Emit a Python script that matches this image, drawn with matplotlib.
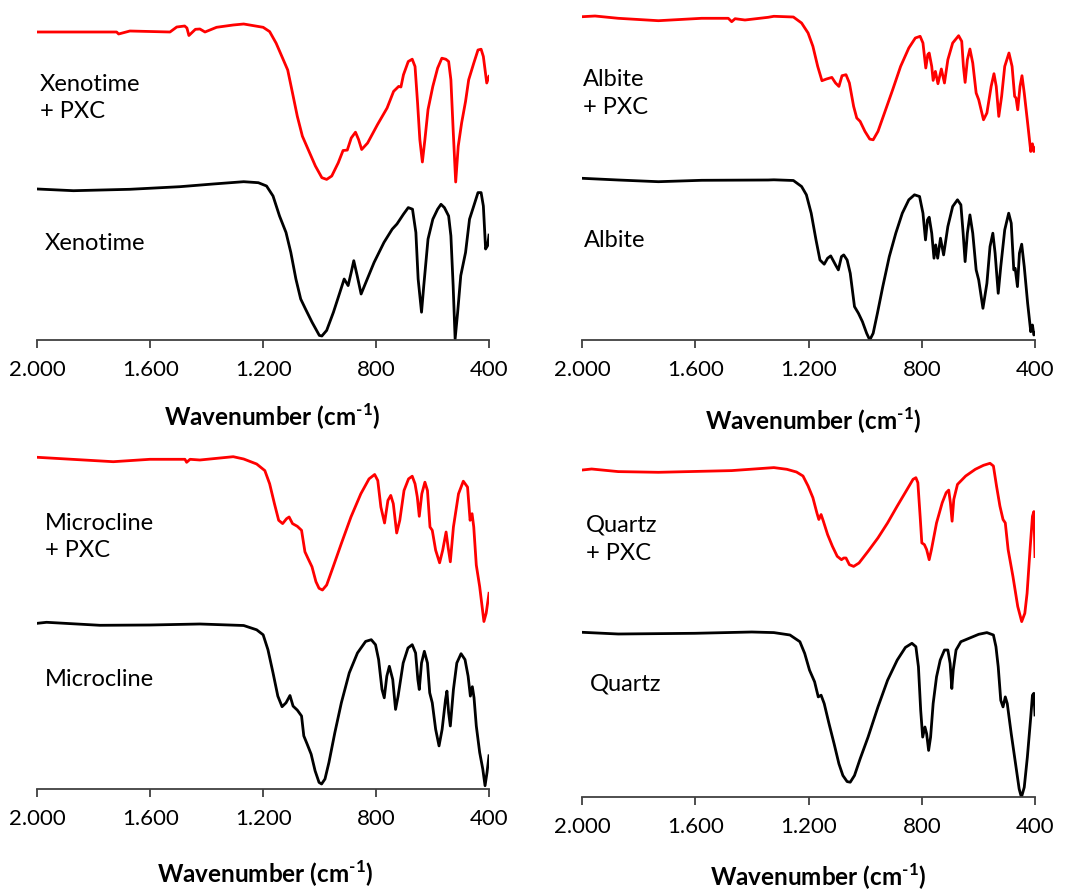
import matplotlib
matplotlib.use("Agg")
import matplotlib.pyplot as plt

plt.rcParams['font.family'] = ['Lato', 'DejaVu Sans']
plt.rcParams['mathtext.fontset'] = 'custom'
plt.rcParams['mathtext.rm'] = 'Lato'
plt.rcParams['mathtext.bf'] = 'Lato:bold'
plt.rcParams['mathtext.fallback'] = 'stixsans'

# ---------------- data (wavenumber cm-1, transmittance a.u., offset traces) ----------------
xen_pxc_w = [2000, 1719, 1712, 1672, 1530, 1506, 1478, 1470, 1463, 1440, 1424, 1406, 1365, 1306, 1269,
             1200, 1177, 1154, 1131, 1113, 1096, 1079, 1061, 1038, 1015, 992, 975, 957, 934, 917, 902,
             888, 873, 862, 851, 830, 795, 761, 738, 720, 712, 703, 686, 672, 662, 653, 645, 636, 627,
             616, 599, 582, 567, 553, 543, 535, 527, 518, 509, 497, 483, 472, 454, 439, 428, 420, 408, 400]
xen_pxc_t = [308, 308, 306, 309, 308, 313, 314, 312, 304.5, 310.7, 311, 308, 312.7, 315, 316,
             312.7, 308.4, 296.8, 281.8, 270, 247, 223.7, 203.8, 188.9, 174, 162.3, 160.6, 164, 177.2, 189.5, 189.9,
             202, 207.8, 200.5, 190.5, 197, 215.4, 232, 248.6, 253.6, 253, 265.2, 278.5, 280.8, 273.5, 237, 200.5, 178, 200.5,
             230.4, 253.6, 271.9, 281.8, 280.8, 278.5, 260.2, 210.4, 158, 193.8, 217, 238.7, 260.2, 276.8, 290, 290.8, 283.5, 257, 263.6]

xen_w = [2000, 1872, 1672, 1495, 1377, 1269, 1217, 1188, 1165, 1142, 1119, 1102, 1084, 1067, 1050, 1027,
         1001, 992, 975, 951, 928, 913, 899, 888, 879, 867, 853, 836, 807, 772, 743, 726, 703, 686, 671,
         659, 651, 639, 631, 616, 599, 582, 570, 558, 543, 535, 527, 520, 511, 500, 483, 469, 454, 439,
         428, 420, 412, 405, 400]
xen_t = [151, 149.3, 150.7, 153.3, 156, 158.3, 157.3, 154, 144, 124, 107.5, 87.6, 61, 41, 31, 17.9,
         4.6, 4, 9.6, 27.8, 47.8, 61, 54.4, 67.7, 79.3, 64.4, 46, 57.7, 77.6, 97.6, 110.8, 116, 125.8, 132.4, 130.8,
         107.5, 61, 27.8, 54.4, 100.9, 120.8, 130.8, 135.7, 132.4, 124, 104.2, 54.4, 1, 27.8, 64.4, 87.6, 120.8, 134, 147.4,
         147.4, 134, 91, 94.3, 104.9]

alb_pxc_w = [2000, 1955, 1873, 1731, 1578, 1484, 1472, 1460, 1425, 1343, 1323, 1254, 1225, 1202, 1185, 1168,
             1153, 1137, 1118, 1105, 1093, 1082, 1068, 1056, 1041, 1030, 1018, 1001, 984, 972, 955, 932, 903,
             875, 846, 823, 806, 796, 786, 779, 774, 765, 760, 752, 743, 731, 720, 708, 691, 670, 659, 653,
             647, 639, 630, 620, 608, 599, 582, 570, 555, 545, 537, 528, 518, 507, 492, 481, 472, 467, 461,
             453, 446, 438, 426, 415, 409, 404, 400]
alb_pxc_t = [323.3, 324, 321.7, 319.3, 321.7, 321.7, 318.3, 321.3, 320, 322.7, 323.7, 323, 317, 307, 293.7, 273.6,
             259.3, 261, 262.6, 257, 253.6, 264.3, 265.3, 257, 233.6, 222, 218.6, 208.6, 200.9, 200.2, 208.6, 227, 250.3,
             273.6, 292, 302, 303.7, 297, 272, 285.3, 287, 273.6, 259.6, 268.6, 256.3, 271, 257, 280.3, 297, 304.3, 298.7, 273.6,
             257.6, 280.3, 291, 277, 247, 240.3, 220.2, 227, 253.6, 266.3, 253.6, 223.6, 243.6, 273.6, 287, 273.6, 243.6, 242, 230.2,
             253.6, 264.3, 247, 216.9, 188.5, 196.2, 188.5, 191.9]

alb_w = [2000, 1873, 1731, 1578, 1343, 1323, 1254, 1225, 1208, 1191, 1174, 1160, 1145, 1133, 1122, 1105, 1095,
         1084, 1076, 1064, 1053, 1038, 1024, 1010, 995, 984, 972, 957, 938, 915, 892, 869, 846, 826, 808,
         796, 787, 780, 774, 765, 757, 751, 744, 734, 723, 708, 691, 674, 662, 654, 647, 639, 630, 620,
         608, 599, 584, 570, 559, 549, 541, 530, 521, 507, 493, 484, 475, 470, 462, 455, 447, 438, 426,
         415, 409, 404, 400]
alb_t = [161.7, 160, 158.3, 159.7, 160, 160.2, 159.5, 153.5, 145.2, 126.8, 100.1, 80, 75.8, 81.8, 84.1, 75.1, 70.1,
         83.4, 85.1, 80, 66.7, 33.4, 26.7, 18.4, 6.7, 0, 6.7, 26.7, 53.4, 83.4, 106.8, 126.8, 140.2, 145.2, 143.5,
         126.8, 100.1, 120.1, 122.8, 106.8, 81.8, 95.1, 81.8, 101.8, 85.1, 113.5, 133.5, 140.2, 135.2, 106.8, 78.4, 106.8, 125.1, 106.8,
         70.1, 60.1, 31.7, 56.7, 93.4, 106.8, 86.8, 46.7, 73.4, 110.1, 126.8, 116.8, 70.1, 71.7, 53.4, 86.8, 95.8, 73.4, 36.7,
         8.3, 15, 5, 6.7]

mic_pxc_w = [2000, 1896, 1731, 1601, 1477, 1471, 1459, 1424, 1306, 1269, 1223, 1194, 1177, 1160, 1145, 1131,
             1117, 1108, 1096, 1079, 1064, 1052, 1041, 1027, 1013, 1002, 990, 975, 952, 923, 889, 854, 825,
             805, 794, 783, 770, 758, 748, 739, 727, 716, 701, 685, 672, 662, 654, 647, 638, 627, 618, 609,
             601, 589, 575, 564, 552, 545, 537, 526, 508, 491, 476, 467, 460, 454, 445, 433, 418, 410, 400]
mic_pxc_t = [331.7, 330, 327.3, 329.7, 329.7, 326.7, 329.7, 329, 332.3, 330, 325, 318.4, 305.2, 285.3, 268.7, 265.4,
             270.3, 272, 265.4, 262.7, 258.7, 237.2, 230.5, 222.2, 207.3, 200.7, 199, 204, 222.2, 245.5, 272, 295.2, 310.1,
             314.5, 308.5, 282, 266, 288.6, 293.6, 285.3, 256, 268.7, 298.5, 310.1, 312.8, 305.2, 292, 272.7, 295.2, 306.8, 298.5, 262,
             258.7, 238.8, 226.2, 238.8, 257, 242, 227.2, 262, 295.2, 307.8, 301.9, 268.7, 275.3, 262, 223.9, 202.3, 167.5, 175.8, 195.7]

mic_w = [2000, 1967, 1778, 1601, 1424, 1269, 1223, 1200, 1183, 1165, 1148, 1133, 1119, 1105, 1094, 1079, 1064,
         1056, 1044, 1030, 1016, 1002, 993, 981, 967, 946, 923, 895, 866, 837, 817, 802, 791, 779, 771,
         762, 753, 741, 731, 722, 704, 687, 672, 660, 652, 647, 639, 629, 618, 610, 601, 589, 577, 566,
         554, 549, 543, 537, 526, 514, 499, 485, 474, 466, 459, 453, 445, 433, 422, 414, 407, 400]
mic_t = [165.7, 166.7, 163.7, 164, 165, 163.5, 159.2, 154.2, 139.3, 116.1, 92.9, 82.3, 86.2, 93.5, 82.9, 78.9, 73,
         53.1, 44.8, 34.8, 18.2, 6.6, 5, 10, 26.5, 56.4, 86.2, 116.1, 136, 147.6, 149.3, 144.3, 129.4, 99.5, 91.2,
         112.8, 122.7, 109.5, 79.6, 92.9, 126, 141, 144.3, 136, 109.5, 99.5, 126, 137.7, 126, 96.2, 86.2, 59.7, 43.1, 59.7,
         89.5, 97.9, 76.3, 63, 99.5, 126, 135.3, 129.4, 112.8, 92.9, 102.3, 91.2, 63, 36.5, 19.9, 3.3, 16.6, 33.2]

qtz_pxc_w = [2000, 1967, 1873, 1731, 1472, 1323, 1277, 1243, 1220, 1202, 1185, 1171, 1164, 1156, 1148, 1133,
             1116, 1099, 1084, 1076, 1068, 1056, 1041, 1022, 990, 955, 921, 887, 852, 831, 821, 814, 806,
             800, 791, 783, 774, 766, 748, 728, 714, 705, 699, 693, 687, 674, 645, 611, 582, 559, 547,
             536, 524, 513, 505, 495, 478, 461, 447, 436, 428, 417, 409, 404, 400]
qtz_pxc_t = [327.3, 328.3, 325.7, 325, 326.7, 329.7, 328, 325.3, 321.3, 311.3, 299.6, 284.5, 277.8, 282.8, 276.1, 262.7,
             251, 241, 237.6, 239.3, 239.3, 232.6, 230.9, 234.3, 246, 259.4, 274.4, 291.2, 307.9, 318, 319.6, 314.6, 281.1,
             254.4, 252.7, 247.7, 237.6, 247.7, 274.4, 294.5, 304.6, 307.2, 294.5, 276.1, 297.9, 312.9, 321.3, 328, 332, 334, 331.3,
             311.3, 291.2, 277.8, 274.4, 247.7, 220.9, 190.8, 175.7, 184, 204, 250, 281, 285.7, 240.7]

qtz_w = [2000, 1873, 1602, 1401, 1323, 1266, 1231, 1214, 1197, 1179, 1166, 1156, 1145, 1128, 1110, 1093, 1079,
         1064, 1053, 1038, 1018, 990, 955, 921, 887, 858, 835, 821, 812, 804, 797, 789, 783, 776, 769,
         760, 748, 735, 720, 708, 700, 694, 689, 679, 662, 633, 599, 570, 547, 538, 530, 521, 513, 505,
         498, 484, 467, 456, 448, 438, 427, 415, 409, 404, 400]
qtz_t = [165, 163.3, 164, 165.3, 164.7, 162.3, 155.6, 143.9, 127.2, 115.5, 100.4, 102.1, 93.7, 73.6, 53.5, 33.5, 21.8,
         15.7, 15.1, 21.8, 38.5, 60.2, 90.4, 117.1, 137.2, 149.9, 154, 150.6, 130.5, 87, 60.2, 70.3, 63.6, 46.9, 60.2,
         93.7, 120.5, 137.2, 147.3, 147.3, 133.9, 108.8, 127.2, 147.3, 155.6, 159, 163, 164.7, 162.3, 150.6, 130.5, 97, 90.4, 100.4,
         93.7, 63.6, 30.1, 8.4, 0, 10, 40.2, 80.3, 102.1, 104, 82.3]

mineral_names = ["Xenotime", "Albite", "Microcline", "Quartz"]
pxc_suffix = "+ PXC"
tick_vals = [2000, 1600, 1200, 800, 400]
tick_labels = ["2.000", "1.600", "1.200", "800", "400"]
xlabel_text = "Wavenumber (cm$^{\\mathbf{\u2010}\\mathbf{1}}$)"

# ---------------- layout ----------------
W, H = 1071, 893
fig = plt.figure(figsize=(W / 100, H / 100), dpi=100)

panels = [
    dict(rect=(37.3, 451.7, 340.0, 330.0), w=(xen_pxc_w, xen_w), t=(xen_pxc_t, xen_t),
         lab=(0.52, -0.233), red_txt=(1990, 242), blk_txt=(1973, 97)),
    dict(rect=(582.3, 452.7, 340.0, 330.0), w=(alb_pxc_w, alb_w), t=(alb_pxc_t, alb_t),
         lab=(0.51, -0.245), red_txt=(1997, 246.5), blk_txt=(1993, 99.3)),
    dict(rect=(37.3, 451.7, 789.0, 340.0), w=(mic_pxc_w, mic_w), t=(mic_pxc_t, mic_t),
         lab=(0.505, -0.25), red_txt=(1973, 252), blk_txt=(1973, 109)),
    dict(rect=(582.3, 452.7, 797.3, 350.0), w=(qtz_pxc_w, qtz_w), t=(qtz_pxc_t, qtz_t),
         lab=(0.52, -0.226), red_txt=(1988, 258), blk_txt=(1973, 113)),
]

for name, p in zip(mineral_names, panels):
    lx, wx, ay, hy = p["rect"]
    ax = fig.add_axes([lx / W, (H - ay) / H, wx / W, hy / H])
    ax.plot(p["w"][0], p["t"][0], color="#ff0000", lw=2.0, solid_joinstyle="round")
    ax.plot(p["w"][1], p["t"][1], color="black", lw=2.0, solid_joinstyle="round")
    ax.set_xlim(2000, 400)
    ax.set_ylim(0, hy)
    for s in ("top", "right", "left"):
        ax.spines[s].set_visible(False)
    ax.spines["bottom"].set_color("#404040")
    ax.spines["bottom"].set_linewidth(1.3)
    ax.set_yticks([])
    ax.set_xticks(tick_vals)
    ax.set_xticklabels(tick_labels)
    ax.tick_params(axis="x", direction="out", length=5.5, width=1.3, color="#404040",
                   labelsize=16, pad=9, labelcolor="black")
    ax.set_xlabel(xlabel_text, fontsize=17.5, fontweight="bold", va="center")
    ax.xaxis.set_label_coords(*p["lab"])
    ax.text(p["red_txt"][0], p["red_txt"][1], name + "\n" + pxc_suffix, fontsize=17,
            ha="left", va="center", linespacing=1.4)
    ax.text(p["blk_txt"][0], p["blk_txt"][1], name, fontsize=17, ha="left", va="center")
    ax.patch.set_visible(False)

fig.savefig("out.png", dpi=100)
